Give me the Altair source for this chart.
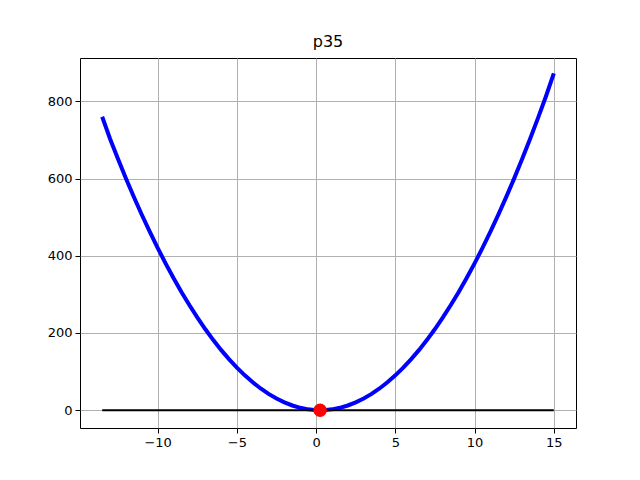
import altair as alt
import pandas as pd

# Curve samples
curve_x = [-13.5, -13, -12.5, -12, -11.5, -11, -10.5, -10, -9.5, -9, -8.5, -8, -7.5, -7,
           -6.5, -6, -5.5, -5, -4.5, -4, -3.5, -3, -2.5, -2, -1.5, -1, -0.5, 0, 0.5, 1,
           1.5, 2, 2.5, 3, 3.5, 4, 4.5, 5, 5.5, 6, 6.5, 7, 7.5, 8, 8.5, 9, 9.5, 10, 10.5,
           11, 11.5, 12, 12.5, 13, 13.5, 14, 14.5, 15]
curve_y = [760.0, 702.3, 650.3, 600.3, 552.3, 506.3, 462.3, 420.3, 380.3, 342.3, 306.3,
           272.3, 240.3, 210.3, 182.3, 156.3, 132.3, 110.3, 90.3, 72.3, 56.3, 42.3, 30.3,
           20.3, 12.3, 6.3, 2.3, 0.3, 0.3, 2.3, 6.3, 12.3, 20.3, 30.3, 42.3, 56.3, 72.3,
           90.3, 110.3, 132.3, 156.3, 182.3, 210.3, 240.3, 272.3, 306.3, 342.3, 380.3,
           420.3, 462.3, 506.3, 552.3, 600.3, 650.3, 702.3, 756.3, 812.3, 872.0]

baseline_x = [-13.5, 15]
baseline_y = [0, 0]

point_x = [0.25]
point_y = [0]

x_ticks = [-10, -5, 0, 5, 10, 15]
y_ticks = [0, 200, 400, 600, 800]

curve = pd.DataFrame({"x": curve_x, "y": curve_y})
base = pd.DataFrame({"x": baseline_x, "y": baseline_y})
pt = pd.DataFrame({"x": point_x, "y": point_y})

xs = alt.Scale(domain=[-14.9, 16.4], nice=False, zero=False)
ys = alt.Scale(domain=[-46, 912], nice=False, zero=False)

xax = alt.Axis(values=x_ticks, title=None, grid=True, gridColor="#b0b0b0", gridWidth=1,
               tickColor="black", tickSize=5, labelColor="black", labelFontSize=13,
               labelFont="DejaVu Sans", domain=False, labelPadding=3)
yax = alt.Axis(values=y_ticks, title=None, grid=True, gridColor="#b0b0b0", gridWidth=1,
               tickColor="black", tickSize=5, labelColor="black", labelFontSize=13,
               labelFont="DejaVu Sans", domain=False, labelPadding=3)

line = alt.Chart(curve).mark_line(color="blue", strokeWidth=4).encode(
    x=alt.X("x:Q", scale=xs, axis=xax),
    y=alt.Y("y:Q", scale=ys, axis=yax),
)
bl = alt.Chart(base).mark_line(color="black", strokeWidth=2).encode(
    x=alt.X("x:Q", scale=xs),
    y=alt.Y("y:Q", scale=ys),
)
dot = alt.Chart(pt).mark_point(filled=True, color="red", size=180, opacity=1, shape="circle").encode(
    x=alt.X("x:Q", scale=xs),
    y=alt.Y("y:Q", scale=ys),
)

chart = alt.layer(line, bl, dot).properties(
    width=496, height=370,
    title=alt.TitleParams("p35", fontSize=16, font="DejaVu Sans", fontWeight="normal",
                          color="black", offset=8),
    autosize=alt.AutoSizeParams(type="none"),
    padding={"left": 72, "top": 50, "right": 56, "bottom": 44},
).configure(background="white").configure_view(stroke="#000000", strokeWidth=1, strokeOpacity=1)

chart.save("out.html", embed_options={"renderer": "svg", "actions": False})
